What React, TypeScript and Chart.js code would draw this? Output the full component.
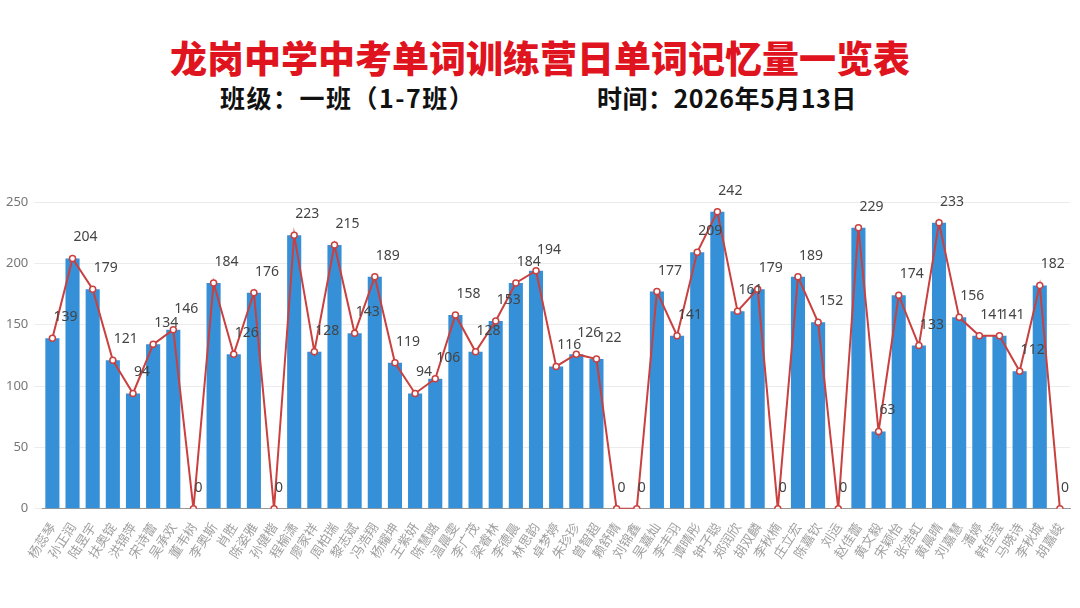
import React, { useEffect, useRef } from 'react';
import { Chart, registerables } from 'chart.js';

Chart.register(...registerables);

const students = [
  '杨蕊琴', '孙正润', '陆昱宇', '扶奥锭', '洪锦萍', '宋诗蕾', '吴承欢', '董韦树', '李奥斯', '肖胜',
  '陈姿雅', '孙健楷', '程榆潇', '廖家祥', '周柏瑞', '黎志斌', '冯浩翔', '杨耀坤', '王紫妍', '陈慧璐',
  '温晨雯', '李广茂', '梁睿林', '李德晨', '林思韵', '卓梦婷', '朱珍珍', '曾智超', '赖舒晴', '刘锦鑫',
  '吴嘉灿', '李丰羽', '谭晴彤', '钟子聪', '郑润欣', '胡双麟', '李秋楠', '庄立宏', '陈嘉钦', '刘运',
  '赵佳蕾', '黄文毅', '宋颖怡', '张浩虹', '黄晨晴', '刘嘉慧', '潘婷', '韩佳滢', '马晓诗', '李秋城',
  '胡嘉峻',
];

const wordCounts = [
  139, 204, 179, 121, 94, 134, 146, 0, 184, 126,
  176, 0, 223, 128, 215, 143, 189, 119, 94, 106,
  158, 128, 153, 184, 194, 116, 126, 122, 0, 0,
  177, 141, 209, 242, 161, 179, 0, 189, 152, 0,
  229, 63, 174, 133, 233, 156, 141, 141, 112, 182,
  0,
];

const yTicks = [0, 50, 100, 150, 200, 250];

const title = '龙岗中学中考单词训练营日单词记忆量一览表';
const classInfo = '班级：一班（1-7班）';
const dateInfo = '时间：2026年5月13日';

// draws the value above each point of the line
const valueLabels = {
  id: 'valueLabels',
  afterDatasetsDraw(chart: any) {
    const meta = chart.getDatasetMeta(1);
    const ctx = chart.ctx;
    ctx.save();
    ctx.font = '14px "Noto Sans", sans-serif';
    ctx.fillStyle = '#444';
    ctx.textAlign = 'left';
    ctx.textBaseline = 'middle';
    meta.data.forEach((pt: any, i: number) => {
      ctx.fillText(String(wordCounts[i]), pt.x + 1, pt.y - 21);
    });
    ctx.restore();
  },
};

const subStyle: React.CSSProperties = {
  position: 'absolute',
  top: 82,
  color: '#111',
  fontFamily: '"Noto Sans CJK SC", sans-serif',
  fontWeight: 700,
  fontSize: 25,
  lineHeight: '30px',
  whiteSpace: 'nowrap',
};

const App: React.FC = () => {
  const chartRef = useRef<HTMLCanvasElement>(null);
  const chartInstance = useRef<Chart | null>(null);

  useEffect(() => {
    if (!chartRef.current) return;
    if (chartInstance.current) chartInstance.current.destroy();

    chartInstance.current = new Chart(chartRef.current, {
      type: 'bar',
      data: {
        labels: students,
        datasets: [
          {
            type: 'bar',
            label: '单词量',
            data: wordCounts,
            backgroundColor: '#3590d8',
            barPercentage: 0.7,
            categoryPercentage: 1,
            order: 2,
          },
          {
            type: 'line',
            label: '趋势',
            data: wordCounts,
            borderColor: '#c9403f',
            borderWidth: 2,
            pointRadius: 3,
            pointBackgroundColor: '#fff',
            pointBorderColor: '#c9403f',
            pointBorderWidth: 1.5,
            tension: 0,
            order: 1,
          },
        ],
      },
      options: {
        animation: false,
        responsive: true,
        maintainAspectRatio: false,
        layout: { padding: { left: 0, right: 10, top: 20 } },
        plugins: {
          legend: { display: false },
          tooltip: { enabled: false },
        },
        scales: {
          x: {
            offset: true,
            grid: { display: false },
            border: { color: '#999' },
            ticks: {
              autoSkip: false,
              maxRotation: 57,
              minRotation: 57,
              color: '#a0a0a0',
              font: { size: 13, family: '"Noto Sans CJK SC", sans-serif' },
            },
          },
          y: {
            min: 0,
            max: 250,
            afterBuildTicks: (axis: any) => {
              axis.ticks = yTicks.map((v) => ({ value: v }));
            },
            grid: { color: '#ececec' },
            border: { display: false },
            ticks: {
              color: '#777',
              padding: 6,
              font: { size: 13, family: '"Noto Sans", sans-serif' },
            },
          },
        },
      },
      plugins: [valueLabels],
    });

    return () => {
      if (chartInstance.current) {
        chartInstance.current.destroy();
        chartInstance.current = null;
      }
    };
  }, []);

  return (
    <div style={{ position: 'absolute', left: 0, top: 0, width: 1080, height: 608, background: '#fff' }}>
      <div
        style={{
          position: 'absolute',
          top: 32,
          left: 0,
          width: 1080,
          textAlign: 'center',
          color: '#e0141e',
          fontFamily: '"Noto Sans CJK SC", sans-serif',
          fontWeight: 900,
          fontSize: 37,
          lineHeight: '50px',
        }}
      >
        {title}
      </div>
      <div style={{ ...subStyle, left: 220, letterSpacing: 1.5 }}>{classInfo}</div>
      <div style={{ ...subStyle, left: 597, letterSpacing: 0.5 }}>{dateInfo}</div>
      <div style={{ position: 'absolute', top: 182, left: 0, width: 1080, height: 382 }}>
        <canvas ref={chartRef}></canvas>
      </div>
    </div>
  );
};

export default App;
